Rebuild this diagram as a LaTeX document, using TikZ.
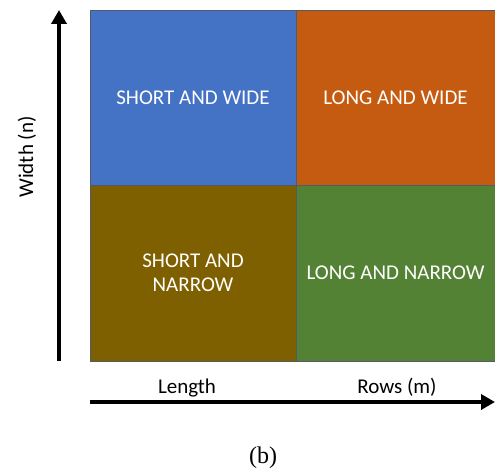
\documentclass[tikz,border=0pt]{standalone}
\usepackage{fontspec}
\setmainfont{Carlito}
\newfontfamily\capfont{Liberation Serif}
\usetikzlibrary{arrows.meta,positioning}

\definecolor{cellblue}{RGB}{68,114,196}
\definecolor{cellorange}{RGB}{197,90,17}
\definecolor{cellbrown}{RGB}{127,96,0}
\definecolor{cellgreen}{RGB}{84,130,53}
\definecolor{cellline}{RGB}{80,90,105}

\begin{document}
\begin{tikzpicture}[x=1pt,y=-1pt]
		\tikzstyle{Cell}	= [rectangle, draw=cellline, line width=0.7pt, text=white, align=center, inner sep=0pt, font=\fontsize{21}{24}\selectfont]
		\tikzstyle{Left}	= [minimum width=206pt]
		\tikzstyle{Right}	= [minimum width=199pt]
		\tikzstyle{Top}		= [minimum height=175pt]
		\tikzstyle{Bottom}	= [minimum height=176pt]
		\tikzstyle{Axis}	= [line width=4pt, -{Triangle[width=15pt,length=14pt]}]
		\tikzstyle{Label}	= [font=\fontsize{21}{24}\selectfont, inner sep=0pt]

		\useasboundingbox (0,0) rectangle (495,470);

		\node (sw) at (193.0, 97.5) [Cell, Left, Top, fill=cellblue] {SHORT AND WIDE};
		\node (lw) at (395.5, 97.5) [Cell, Right, Top, fill=cellorange] {LONG AND WIDE};
		\node (sn) at (193.0, 273.0) [Cell, Left, Bottom, fill=cellbrown] {SHORT AND\\NARROW};
		\node (ln) at (395.5, 273.0) [Cell, Right, Bottom, fill=cellgreen] {LONG AND NARROW};

		\coordinate (ybot) at (59, 361);
		\coordinate (ytop) at (59, 10);
		\coordinate (xleft) at (90, 402);
		\coordinate (xright) at (495, 402);

		\draw [Axis] (ybot) to (ytop);
		\draw [Axis] (xleft) to (xright);

		\node (width) at (27, 157) [Label, rotate=90] {Width (n)};
		\node (length) at (187, 393) [Label, anchor=base] {Length};
		\node (rows) at (397, 393) [Label, anchor=base] {Rows (m)};
		\node (caption) at (263, 458) [font=\capfont\fontsize{24}{26}\selectfont, inner sep=0pt] {(b)};
	\end{tikzpicture}
\end{document}
